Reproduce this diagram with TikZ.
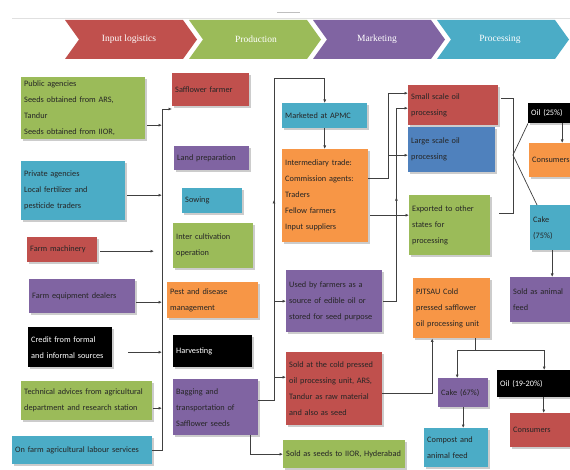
\documentclass[tikz,border=0pt]{standalone}
\usepackage{fontspec}
\setmainfont{Carlito}
\newfontfamily\bannerfont{Liberation Serif}
\usetikzlibrary{arrows.meta,shadows,decorations.markings,calc}
\definecolor{cRed}{HTML}{C0504D}
\definecolor{cGreen}{HTML}{9BBB59}
\definecolor{cPurple}{HTML}{8064A2}
\definecolor{cBlue}{HTML}{4BACC6}
\definecolor{cOrange}{HTML}{F79646}
\definecolor{cDBlue}{HTML}{4F81BD}
\tikzset{
  box/.style={rectangle, anchor=north west, inner xsep=3pt, inner ysep=2pt, align=left,
    font=\fontsize{8.3}{16}\selectfont, text=black!85,
    drop shadow={shadow xshift=1.5pt, shadow yshift=-1.5pt, fill=black!20, opacity=1}},
  conn/.style={draw=black!75, line width=0.7pt},
  arr/.style={conn, -{Latex[length=3.5pt,width=3pt]}},
  uparrow/.style={postaction={decorate}, decoration={markings,
    mark=at position #1 with {\arrow{Latex[length=3.5pt,width=3pt]}}}},
  bann/.style={font=\bannerfont\fontsize{9.5}{11}\selectfont, text=white}
}
\newcommand\bx[7]{%
  \pgfmathsetmacro\bxtw{#5-6}%
  \node[box, fill=#2, minimum width=#5pt, minimum height=#6pt, text width=\bxtw pt] (#1) at (#3,#4) {#7};}
\begin{document}
\begin{tikzpicture}[x=1pt,y=-1pt]
\useasboundingbox (0,0) rectangle (570,470);
\fill[white] (0,0) rectangle (570,470);
% top rule
\draw[black!12, line width=0.8pt] (12,18) -- (570,18);
\draw[black!25, line width=0.5pt] (277,12) -- (300,12);
% banner
\fill[cRed]    (65,20)  -- ++(118,0) -- ++(14,19.5) -- ++(-14,19.5) -- ++(-118,0) -- ++(14,-19.5) -- cycle;
\fill[cGreen]  (189,20) -- ++(118,0) -- ++(14,19.5) -- ++(-14,19.5) -- ++(-118,0) -- ++(14,-19.5) -- cycle;
\fill[cPurple] (313,20) -- ++(118,0) -- ++(14,19.5) -- ++(-14,19.5) -- ++(-118,0) -- ++(14,-19.5) -- cycle;
\fill[cBlue]   (437,20) -- ++(118,0) -- ++(14,19.5) -- ++(-14,19.5) -- ++(-118,0) -- ++(14,-19.5) -- cycle;
\node[bann] (h1) at (129,39.5) {Input logistics};
\node[bann] (h2) at (256,39.5) {Production};
\node[bann] (h3) at (377,39.5) {Marketing};
\node[bann] (h4) at (500,39.5) {Processing};
% input logistics
\bx{pub}{cGreen}{21}{77}{124}{62}{Public agencies\\Seeds obtained from ARS,\\Tandur\\Seeds obtained from IIOR,}
\bx{priv}{cBlue}{21}{161}{104}{59}{Private agencies\\Local fertilizer and\\pesticide traders}
\bx{mach}{cRed}{27}{237}{70}{25}{Farm machinery}
\bx{equip}{cPurple}{29}{279}{106}{34}{Farm equipment dealers}
\bx{cred}{black,text=white}{28}{327}{84}{40}{Credit from formal\\and informal sources}
\bx{tech}{cGreen}{21}{381}{131}{39}{Technical advices from agricultural\\department and research station}
\bx{lab}{cBlue}{12}{436}{140}{28}{On farm agricultural labour services}
% production
\bx{saff}{cRed}{172}{73}{77}{33}{Safflower farmer}
\bx{land}{cPurple}{174}{146}{75}{24}{Land preparation}
\bx{sow}{cBlue}{182}{188}{60}{25}{Sowing}
\bx{inter}{cGreen}{173}{223}{80}{45}{Inter cultivation\\operation}
\bx{pest}{cOrange}{167}{282}{91}{36}{Pest and disease\\management}
\bx{harv}{black,text=white}{173}{335}{79}{32}{Harvesting}
\bx{bag}{cPurple}{173}{379}{85}{56}{Bagging and\\transportation of\\Safflower seeds}
% marketing
\bx{apmc}{cBlue}{282}{103}{85}{25}{Marketed at APMC}
\bx{trade}{cOrange}{282}{149}{86}{93}{Intermediary trade:\\Commission agents:\\Traders\\Fellow farmers\\Input suppliers}
\bx{used}{cPurple}{286}{270}{96}{62}{Used by farmers as a\\source of edible oil or\\stored for seed purpose}
\bx{sold}{cRed}{286}{352}{96}{73}{Sold at the cold pressed\\oil processing unit, ARS,\\Tandur as raw material\\and also as seed}
\bx{iior}{cGreen}{283}{440}{122}{28}{Sold as seeds to IIOR, Hyderabad}
% processing
\bx{small}{cRed}{408}{85}{90}{40}{Small scale oil\\processing}
\bx{large}{cDBlue}{408}{127}{87}{45}{Large scale oil\\processing}
\bx{exp}{cGreen}{409}{195}{81}{60}{Exported to other\\states for\\processing}
\bx{oilA}{black,text=white,inner xsep=2pt}{528}{103}{42}{20}{Oil (25\%)}
\bx{consA}{cOrange}{529}{143}{46}{34}{Consumers}
\bx{cakeA}{cBlue}{530}{205}{44}{45}{Cake\\(75\%)}
\bx{feed}{cPurple}{510}{277}{64}{45}{Sold as animal\\feed}
\bx{pjt}{cOrange}{413}{278}{77}{60}{PJTSAU Cold\\pressed safflower\\oil processing unit}
\bx{cakeB}{cPurple}{438}{378}{50}{29}{Cake (67\%)}
\bx{oilB}{black,text=white}{497}{370}{77}{27}{Oil (19-20\%)}
\bx{comp}{cBlue}{424}{428}{64}{39}{Compost and\\animal feed}
\bx{consB}{cRed}{510}{413}{64}{34}{Consumers}
% ---- input spine
\coordinate (sp) at (162,109);
\draw[conn] (lab.east) -| (sp);
\draw[arr] (sp) -- (saff.west |- sp);
\coordinate (a1) at ([yshift=-17pt]pub.east);
\coordinate (a2) at ([yshift=-4.5pt]priv.east);
\coordinate (a3) at ([yshift=-1.5pt]mach.east);
\coordinate (a4) at ([yshift=-6pt]equip.east);
\coordinate (a5) at ([yshift=-5pt]cred.east);
\coordinate (a6) at ([yshift=-7.5pt]tech.east);
\draw[arr, shorten <=2pt] (a1) -- (a1 -| sp);
\draw[arr, shorten <=2pt] (a2) -- (a2 -| sp);
\draw[arr, shorten <=3pt, shorten >=8pt] (a3) -- (a3 -| sp);
\draw[arr, shorten <=1pt] (a4) -- (a4 -| sp);
\draw[arr, shorten <=16pt] (a5) -- (a5 -| sp);
\draw[arr, shorten <=1pt] (a6) -- (a6 -| sp);
% ---- marketing spine
\coordinate (ms) at (274,78);
\draw[arr, uparrow=0.522] ([yshift=7pt]bag.east) -| (ms) -| (apmc.north);
\draw[arr] (ms |- used.west) -- (used.west);
\coordinate (s0) at ([yshift=11.5pt]sold.west);
\draw[arr] (ms |- s0) -- (s0);
\draw[arr] ([xshift=34.5pt]bag.south) |- (iior.west);
\draw[arr] (apmc.south) -- (apmc.south |- trade.north);
% ---- marketing to processing
\coordinate (t1) at ([yshift=17.5pt]trade.east);
\coordinate (jl) at ([xshift=20pt]t1);
\draw[arr] (t1) -- (jl) |- ([yshift=12pt]small.west);
\coordinate (lw) at ([yshift=-5.5pt]large.west);
\draw[arr] (jl |- lw) -- (lw);
\coordinate (te) at ([yshift=-19.5pt]trade.east);
\draw[arr, shorten <=2pt] (te) -- (te -| exp.west);
\draw[arr, uparrow=0.54, shorten <=1pt] (used.east) -- ++(14,0) |- ([yshift=-3pt]small.west);
% ---- processing
\coordinate (b1) at ([yshift=7pt]small.east);
\coordinate (b2) at ([yshift=12pt]exp.east);
\coordinate (bm) at (513,155);
\draw[conn] ([xshift=3pt]b1) -- (b1 -| bm) -- (b2 -| bm) -- ([xshift=9pt]b2);
\draw[conn] (bm) -- (oilA.south west);
\draw[conn] (bm) -- ([xshift=7pt]cakeA.north west);
\coordinate (o1) at ([xshift=13pt]oilA.south);
\draw[arr] (o1) -- (o1 |- consA.north);
\draw[arr] (cakeA.south) -- (cakeA.south |- feed.north);
\coordinate (s1) at ([yshift=-4.5pt]sold.east);
\coordinate (p1) at ([xshift=-19.5pt]pjt.south);
\draw[arr] (s1) -| (p1);
\coordinate (p2) at ([xshift=23.5pt]pjt.south);
\draw[arr] (p2) -- ++(0,12) -| ([xshift=-6pt]cakeB.north);
\draw[arr] (p2) -- ++(0,12) -| ([xshift=8.5pt]oilB.north);
\draw[arr] (cakeB.south) -- (cakeB.south |- comp.north);
\coordinate (o2) at ([xshift=8pt]oilB.south);
\draw[arr] (o2) -- (o2 |- consB.north);
\end{tikzpicture}
\end{document}
